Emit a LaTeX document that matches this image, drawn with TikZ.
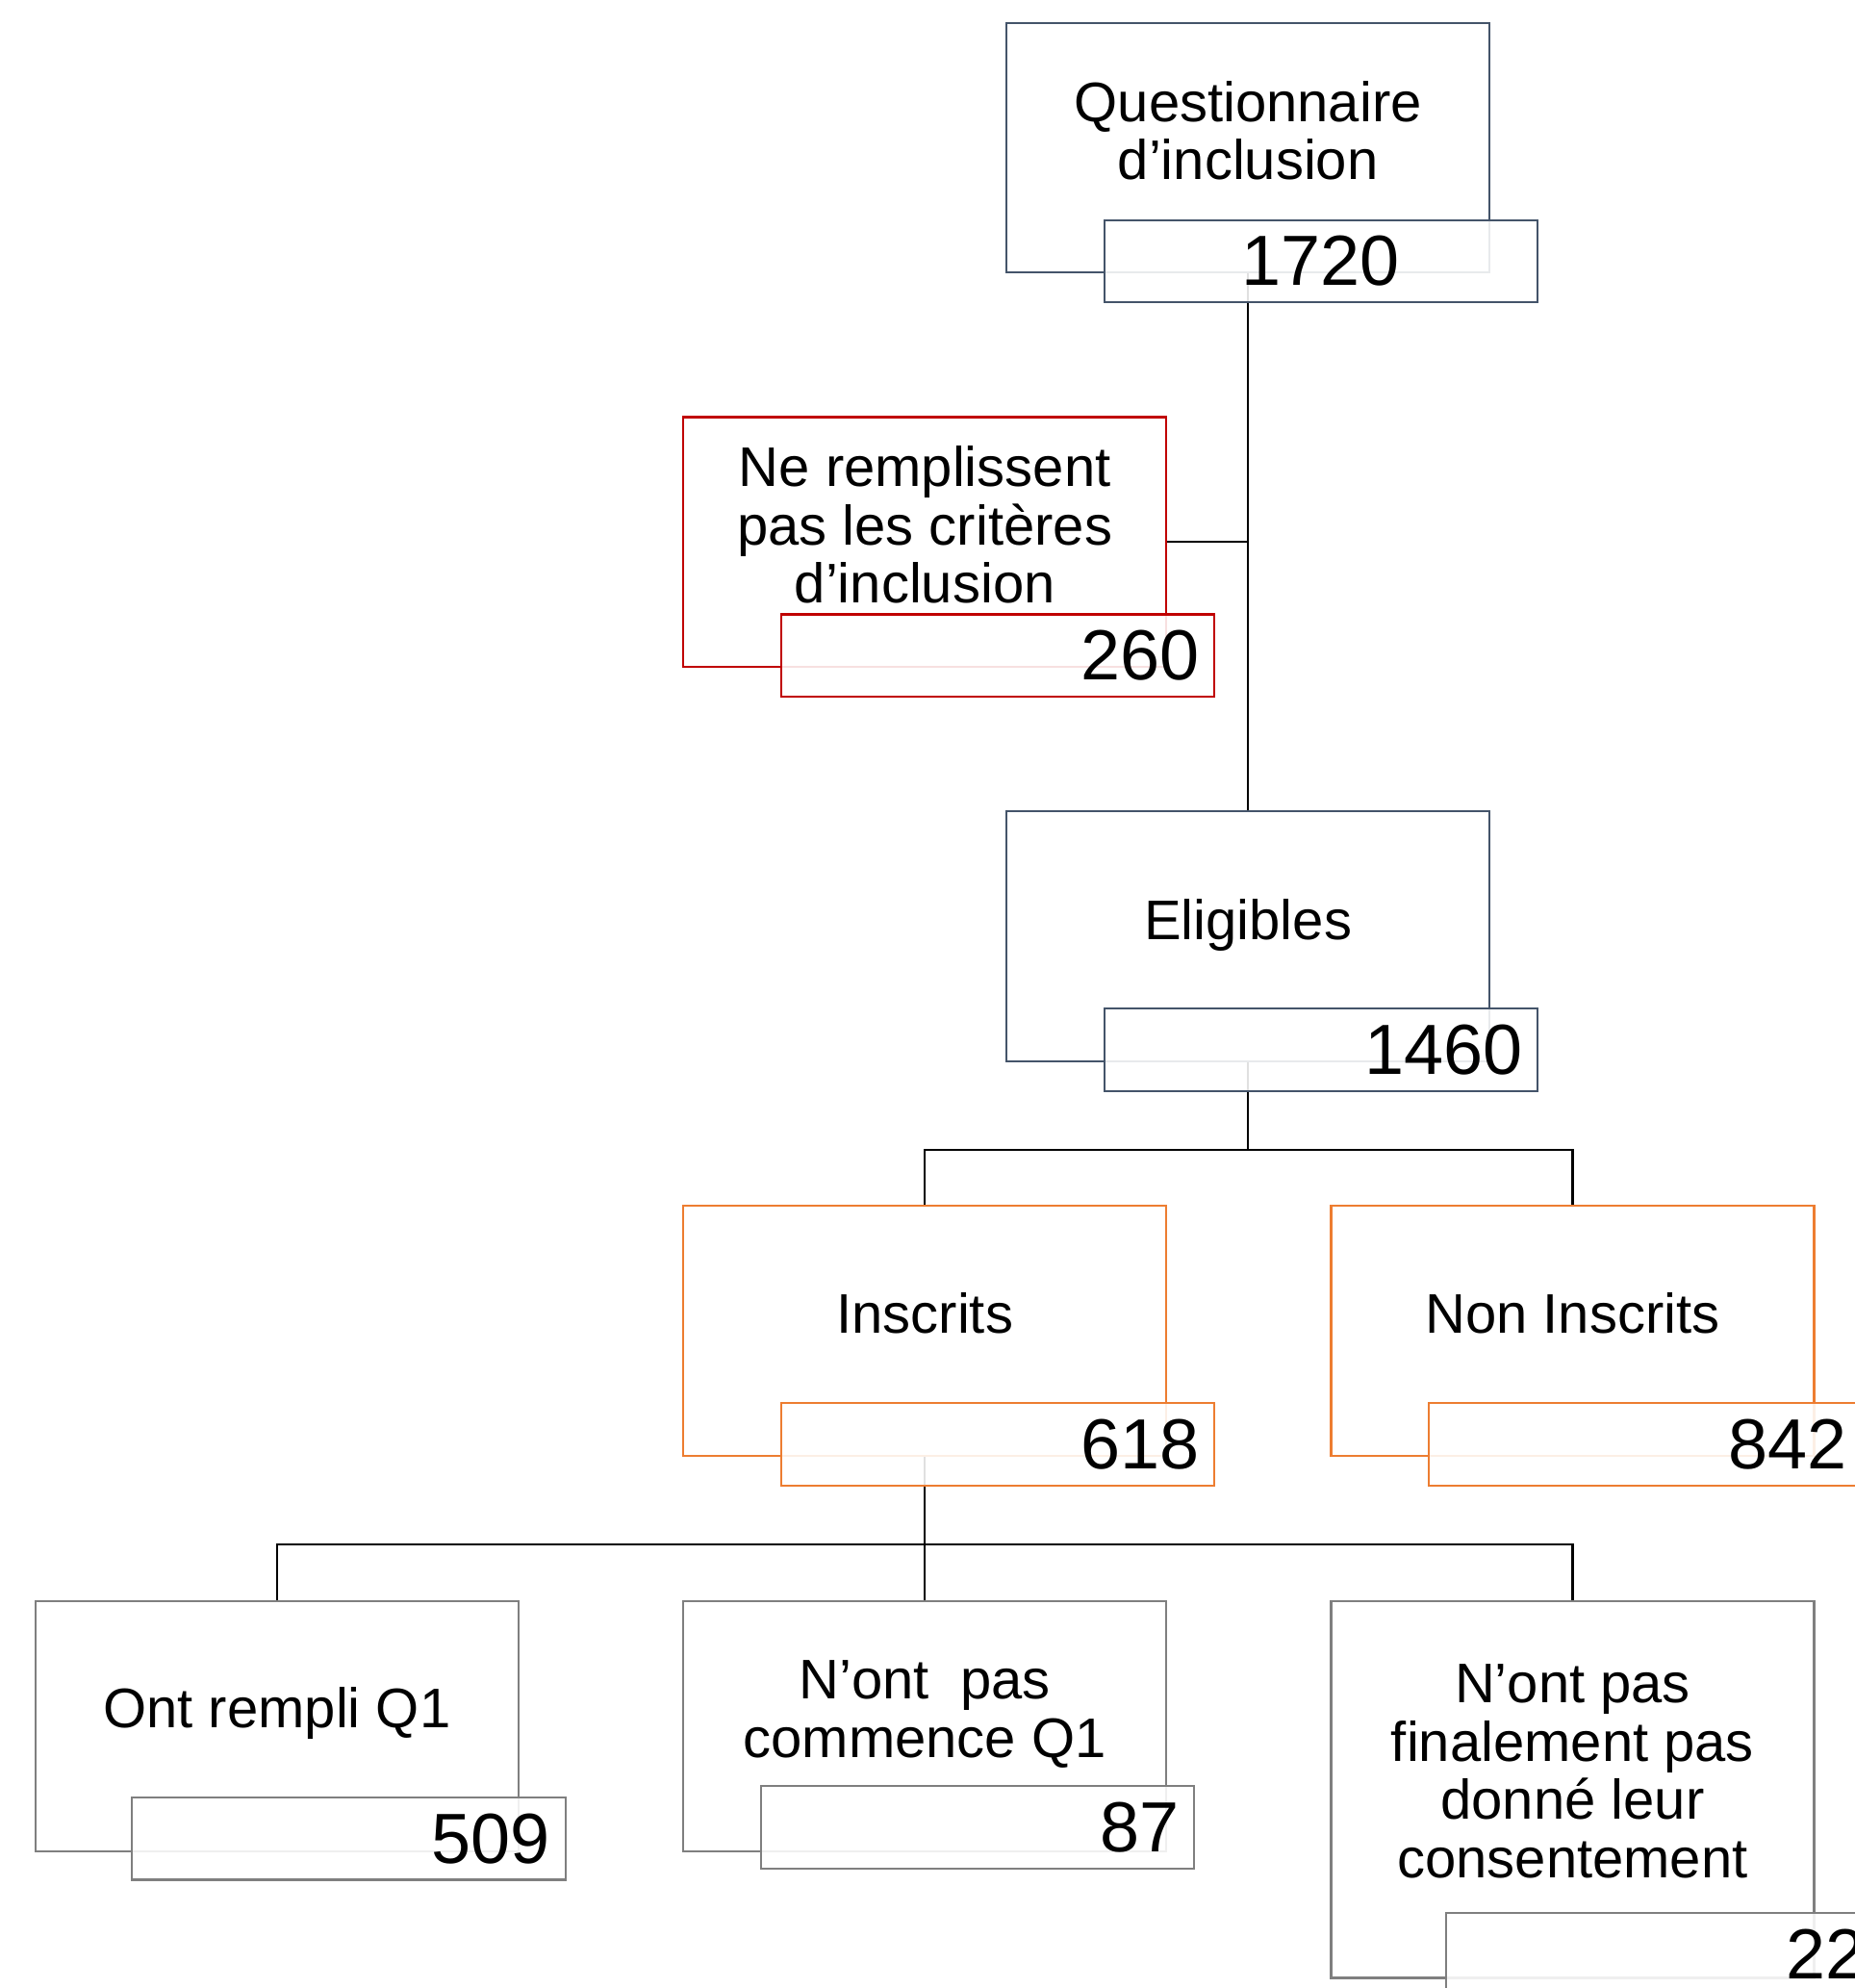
\documentclass[tikz,border=0pt]{standalone}
\usepackage{fontspec}
\setmainfont{Liberation Sans}
\usetikzlibrary{positioning}
\definecolor{slate}{HTML}{44546A}
\definecolor{redline}{HTML}{C00000}
\definecolor{orangeline}{HTML}{ED7D31}
\definecolor{grayline}{HTML}{7F7F7F}
\newlength{\stageWidth}
\setlength{\stageWidth}{190.5pt}
\newlength{\stageHeight}
\setlength{\stageHeight}{98.5pt}
\newlength{\countWidth}
\setlength{\countWidth}{171pt}
\newlength{\countHeight}
\setlength{\countHeight}{32.5pt}
\tikzset{stage/.style={shape=rectangle, draw, line width=0.8pt, minimum width=\stageWidth, minimum height=\stageHeight, inner sep=0pt}}
\tikzset{stagetext/.style={align=center, inner sep=0pt, font=\fontsize{22}{23}\selectfont}}
\tikzset{count/.style={shape=rectangle, draw, line width=0.8pt, fill=white, fill opacity=0.88, text opacity=1, anchor=north west, minimum width=\countWidth, minimum height=\countHeight, inner xsep=6pt, inner ysep=0pt, text width=159pt, align=right, font=\fontsize{28}{30}\selectfont}}
\tikzset{link/.style={draw=black, line width=0.8pt}}

\begin{document}
\begin{tikzpicture}[x=0.5pt, y=-0.5pt]
\useasboundingbox (0,0) rectangle (1463,1568);
\begin{scope}[every node/.style={stage}]
    \node[draw=slate] (quest) at (984.5,116.5) {};
    \node[draw=redline] (excl) at (729.5,427.5) {};
    \node[draw=slate] (elig) at (984.5,738.5) {};
    \node[draw=orangeline] (insc) at (729.5,1049.5) {};
    \node[draw=orangeline] (noninsc) at (1240.5,1049.5) {};
    \node[draw=grayline] (rempli) at (218.5,1361.5) {};
    \node[draw=grayline] (noncomm) at (729.5,1361.5) {};
    \node[draw=grayline, minimum height=148.5pt] (noncons) at (1240.5,1411.5) {};
\end{scope}
\begin{scope}[every node/.style={stagetext}]
    \node (quest-t) at ([yshift=6.75pt]quest.center) {Questionnaire\\d’inclusion};
    \node (excl-t) at ([yshift=6.75pt]excl.center) {Ne remplissent\\pas les critères\\d’inclusion};
    \node (elig-t) at ([yshift=4.25pt]elig.center) {Eligibles};
    \node (insc-t) at ([yshift=6.75pt]insc.center) {Inscrits};
    \node (noninsc-t) at ([yshift=6.75pt]noninsc.center) {Non Inscrits};
    \node (rempli-t) at ([yshift=5pt]rempli.center) {Ont rempli Q1};
    \node (noncomm-t) at ([yshift=4.75pt]noncomm.center) {N’ont~ pas\\commence Q1};
    \node (noncons-t) at ([yshift=7.25pt]noncons.center) {N’ont pas\\finalement pas\\donné leur\\consentement};
\end{scope}
% connectors
\draw[link] (quest.south) -- (elig.north);
\draw[link] (excl.east) -- (excl.east -| quest.south);
\coordinate (split-a) at ([yshift=-34.5pt]elig.south);
\draw[link] (elig.south) -- (split-a) -| (insc.north);
\draw[link] (split-a) -| (noninsc.north);
\coordinate (split-b) at ([yshift=-34.5pt]insc.south);
\draw[link] (insc.south) -- (split-b) -| (rempli.north);
\draw[link] (split-b) -- (noncomm.north);
\draw[link] (split-b) -| (noncons.north);
% counts
\begin{scope}[every node/.style={count}]
    \node[draw=slate, align=center] (quest-n) at ([xshift=38.5pt,yshift=21.5pt]quest.south west) {1720};
    \node[draw=redline] (excl-n) at ([xshift=38.5pt,yshift=21.5pt]excl.south west) {260};
    \node[draw=slate] (elig-n) at ([xshift=38.5pt,yshift=21.5pt]elig.south west) {1460};
    \node[draw=orangeline] (insc-n) at ([xshift=38.5pt,yshift=21.5pt]insc.south west) {618};
    \node[draw=orangeline] (noninsc-n) at ([xshift=38.5pt,yshift=21.5pt]noninsc.south west) {842};
    \node[draw=grayline] (rempli-n) at ([xshift=38pt,yshift=22pt]rempli.south west) {509};
    \node[draw=grayline] (noncomm-n) at ([xshift=30.5pt,yshift=26.5pt]noncomm.south west) {87};
    \node[draw=grayline] (noncons-n) at ([xshift=45.5pt,yshift=26.5pt]noncons.south west) {22};
\end{scope}
\end{tikzpicture}
\end{document}
